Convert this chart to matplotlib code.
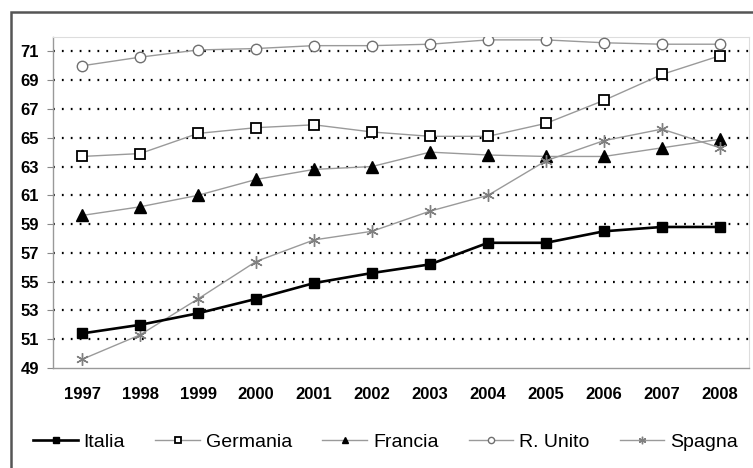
import matplotlib
matplotlib.use("Agg")
import matplotlib.pyplot as plt
from matplotlib.patches import Rectangle

plt.rcParams['font.family'] = ['Liberation Sans', 'DejaVu Sans']

# Data
anni = ['1997', '1998', '1999', '2000', '2001', '2002',
        '2003', '2004', '2005', '2006', '2007', '2008']
italia = [51.4, 52.0, 52.8, 53.8, 54.9, 55.6, 56.2, 57.7, 57.7, 58.5, 58.8, 58.8]
germania = [63.7, 63.9, 65.3, 65.7, 65.9, 65.4, 65.1, 65.1, 66.0, 67.6, 69.4, 70.7]
francia = [59.6, 60.2, 61.0, 62.1, 62.8, 63.0, 64.0, 63.8, 63.7, 63.7, 64.3, 64.9]
regno_unito = [70.0, 70.6, 71.1, 71.2, 71.4, 71.4, 71.5, 71.8, 71.8, 71.6, 71.5, 71.5]
spagna = [49.6, 51.3, 53.8, 56.4, 57.9, 58.5, 59.9, 61.0, 63.4, 64.8, 65.6, 64.3]
y_ticks = [49, 51, 53, 55, 57, 59, 61, 63, 65, 67, 69, 71]

fig = plt.figure(figsize=(7.53, 4.68), dpi=100)
ax = fig.add_axes([0.0704, 0.2137, 0.9243, 0.7072])

x = list(range(len(anni)))
gray = '#9a9a9a'

ax.plot(x, italia, color='black', lw=1.9, marker='s', ms=6.5,
        mfc='black', mec='black', label='Italia', zorder=5)
ax.plot(x, germania, color=gray, lw=1.0, marker='s', ms=6.5,
        mfc='white', mec='black', mew=1.3, label='Germania', zorder=4)
ax.plot(x, francia, color=gray, lw=1.0, marker='^', ms=8,
        mfc='black', mec='black', label='Francia', zorder=4)
ax.plot(x, regno_unito, color=gray, lw=1.0, marker='o', ms=7.5,
        mfc='white', mec='#707070', mew=1.0, label='R. Unito', zorder=4)
ax.plot(x, spagna, color=gray, lw=1.0, marker=(6, 2, 0), ms=9,
        mec='#808080', mew=1.0, label='Spagna', zorder=4)

ax.set_xlim(-0.5, len(anni) - 0.5)
ax.set_ylim(49, 72)
ax.set_yticks(y_ticks)
ax.set_yticklabels([str(v) for v in y_ticks], fontsize=12, fontweight='bold')
ax.set_xticks(x)
ax.set_xticklabels(anni, fontsize=12, fontweight='bold')
ax.tick_params(axis='x', length=0, pad=14)
ax.tick_params(axis='y', length=4, color='#888888', pad=6)

for v in y_ticks[1:]:
    ax.axhline(v, color='black', lw=1.6, ls=(0, (0.8, 3.2)), zorder=1)

for s in ['top', 'right']:
    ax.spines[s].set_color('#dddddd')
    ax.spines[s].set_linewidth(0.8)
for s in ['left', 'bottom']:
    ax.spines[s].set_color('#999999')
    ax.spines[s].set_linewidth(1.0)

leg = fig.legend(loc='center', bbox_to_anchor=(0.512, 0.055), ncol=5,
                 frameon=False, fontsize=14, handlelength=2.3,
                 columnspacing=1.55, handletextpad=0.3, markerscale=0.6)

# outer frame
fig.patches.append(Rectangle((11 / 753, -0.05), 1.1, 1.05 - 12 / 468,
                             transform=fig.transFigure, fill=False,
                             edgecolor='#555555', lw=1.8))

fig.savefig('out.png', dpi=100)
